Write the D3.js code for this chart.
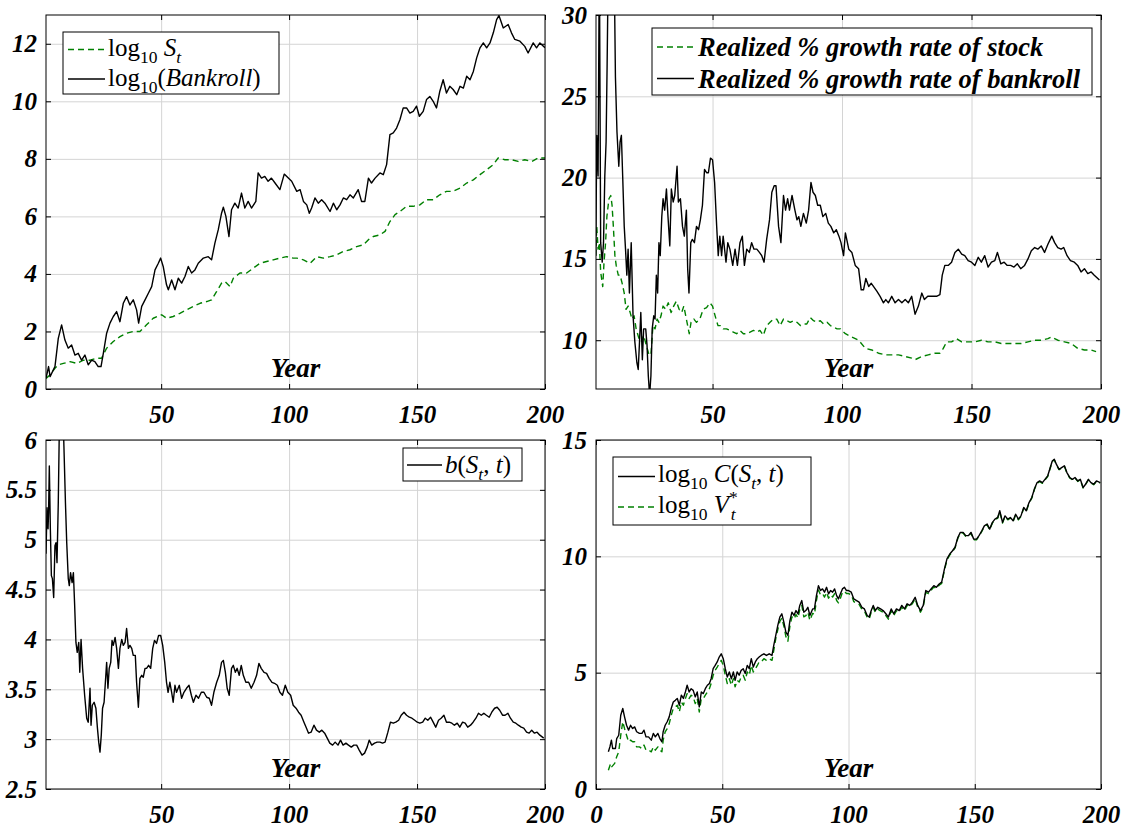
<!DOCTYPE html>
<html>
<head>
<meta charset="utf-8">
<script src="https://cdn.jsdelivr.net/npm/d3@7"></script>
<style>
  body { margin: 0; background: #fff; }
  svg { display: block; }
</style>
</head>
<body>
<svg id="chart" width="1131" height="829"></svg>
<script>
// Values: [year, value]

// Top left: log10 of stock price and of bankroll
const logStock = [[5,0.37],[6.6,0.49],[8.5,0.72],[9.8,0.84],[11.8,0.89],[14.4,0.95],[17,0.89],[19.6,1.0],[22.2,1.0],[24.8,1.07],[26.7,1.07],[28.7,1.42],[31.3,1.65],[33.9,1.82],[36.5,1.94],[39.1,2.0],[41.7,2.0],[44.3,2.23],[46.9,2.46],[50.2,2.58],[52.1,2.46],[54.7,2.52],[57.3,2.63],[59.9,2.75],[62.6,2.87],[65.2,2.98],[67.8,3.04],[69.7,3.1],[71.7,3.39],[73.6,3.68],[74.9,3.74],[76.9,3.56],[78.2,3.85],[80.8,4.03],[83.4,4.03],[86,4.2],[88.6,4.37],[91.2,4.43],[93.8,4.49],[96.4,4.55],[99,4.6],[101.6,4.55],[103,4.55],[105.6,4.49],[108.2,4.37],[110.8,4.6],[113.4,4.55],[116,4.6],[118.6,4.66],[121.2,4.78],[123.8,4.84],[126.4,4.95],[129,5.01],[131,5.19],[132.9,5.3],[135.5,5.36],[137.5,5.48],[139.4,5.82],[141.4,6.06],[143.3,6.17],[145.9,6.35],[148.5,6.35],[151.1,6.4],[153.7,6.58],[156.3,6.58],[158.9,6.75],[161.5,6.87],[164.1,6.87],[166.8,6.98],[169.4,7.16],[172,7.27],[174.6,7.45],[177.2,7.62],[179.8,7.8],[181.7,8.03],[184.3,7.97],[186.9,7.97],[189.5,7.91],[192.1,7.97],[194.8,7.91],[197.4,8.03],[200,8.03]];

const logBankroll = [[5,0.37],[6,0.78],[6.6,0.43],[8.5,0.78],[9.8,1.76],[11.1,2.23],[12.4,1.7],[13.7,1.42],[15,1.53],[16.3,1.18],[17.6,1.24],[18.9,1.0],[20.2,1.18],[21.5,0.84],[22.8,1.0],[24.1,0.95],[25.4,0.78],[26.5,0.78],[27.4,1.24],[28.7,1.94],[30,2.29],[31.3,2.52],[32.6,2.69],[33.9,2.34],[35.2,2.98],[36.5,3.21],[37.8,2.92],[39.1,3.1],[40.4,2.75],[41.2,2.29],[42.4,2.87],[43.7,3.1],[45,3.33],[46.3,3.56],[47.6,4.14],[48.9,4.37],[49.8,4.55],[50.8,4.26],[52.1,3.62],[52.8,3.45],[54.1,3.79],[55.4,3.45],[56.7,3.85],[58,3.68],[59.3,3.91],[60.6,4.26],[61.9,4.03],[63.2,4.14],[64.5,4.37],[66.5,4.55],[68.4,4.6],[69.7,4.49],[71,5.07],[72.3,5.53],[73.6,6.11],[74.3,6.32],[75.3,6.0],[76.5,5.3],[77.5,6.23],[78.8,6.46],[80.1,6.29],[81.4,6.81],[82.7,6.29],[84,6.52],[85.3,6.29],[87,6.52],[87.9,7.51],[89.2,7.33],[90.5,7.39],[91.8,7.22],[93.1,7.33],[94.5,7.16],[96.4,6.93],[98.1,7.47],[99.7,7.33],[101,7.22],[103,6.87],[104.3,6.93],[105.6,6.52],[106.9,6.4],[107.9,6.11],[108.8,6.29],[110.1,6.64],[111.4,6.46],[112.7,6.58],[114,6.46],[116,6.17],[117.3,6.46],[118.6,6.23],[119.9,6.4],[121.2,6.64],[122.5,6.58],[123.8,6.75],[125.1,6.64],[127,6.93],[128.3,6.52],[129.6,6.52],[131,7.33],[132.2,7.16],[133.6,7.33],[135.5,7.51],[136.8,7.45],[138.1,7.8],[139.4,8.84],[140.7,8.9],[142,9.07],[143.3,9.36],[144.6,9.77],[145.9,9.77],[147.2,9.59],[148.5,9.65],[149.8,9.83],[150.9,9.48],[152.4,9.65],[153.7,10.06],[155,10.17],[156.3,10.0],[157.6,9.77],[158.9,10.35],[160.2,10.75],[161.5,10.29],[162.8,10.52],[164.1,10.41],[165.5,10.23],[166.8,10.52],[168.1,10.46],[169.4,10.87],[170.7,10.75],[172,11.04],[173.3,11.51],[174.6,11.86],[175.9,12.03],[177.2,11.86],[178.5,12.03],[179.8,12.38],[181.1,12.84],[182,12.98],[183.7,12.55],[185.6,12.67],[186.9,12.38],[188.2,12.15],[190.2,12.09],[192.1,11.91],[193.4,11.68],[195.4,12.03],[196.7,11.86],[198,12.03],[200,11.86]];

// Top right: realized % growth rates
const growthStock = [[4.9,15.2],[5.3,17],[5.8,15.6],[6.3,16],[6.8,14.2],[7.6,13.3],[8.1,14.8],[8.7,16],[9.2,17.6],[10,18.7],[10.7,18.9],[11.2,18.3],[11.7,17],[12.3,15.2],[12.8,14.6],[13.6,14],[14.3,14],[15.1,13.5],[15.9,12.9],[16.6,11.9],[17.4,12.1],[18.2,11.7],[18.9,11.3],[19.7,11.5],[20.5,10.7],[21.6,10.1],[22.5,9.9],[23.4,10.3],[24.4,9.7],[25.5,9.1],[26.2,9.1],[27,10.9],[27.8,10.7],[28.6,11.3],[29.3,11.1],[30.1,11.5],[30.9,12.1],[31.9,11.9],[32.9,12.3],[34,11.7],[35,12.1],[36,12.4],[37.1,11.9],[38.1,11.7],[38.9,12.1],[39.9,11.3],[41,10.4],[41.7,11.1],[42.8,11.3],[43.8,11.1],[45.1,11.3],[46.4,11.9],[47.7,12],[49,12.3],[50,12.1],[51,11.5],[52.1,10.9],[53.1,10.9],[54.1,10.7],[55.4,10.7],[56.7,10.6],[58,10.5],[59.3,10.4],[60.6,10.6],[61.9,10.4],[63.2,10.4],[64.5,10.5],[65.8,10.6],[67.1,10.5],[68.3,10.6],[69.6,10.3],[70.9,10.9],[72.2,11.1],[73.5,11.3],[74.8,11.3],[76.1,10.9],[77.4,11.3],[78.7,11.2],[80,11.1],[81.3,11.2],[82.6,11.1],[83.9,10.9],[85.1,11],[86.4,11],[87.7,11.4],[89,11.2],[90.3,11.1],[91.6,11.2],[92.9,11],[94.2,11.1],[95.5,10.9],[96.8,10.8],[98.1,10.7],[99.4,10.7],[100.6,10.5],[101.3,10.4],[103.8,10.2],[106.4,10],[109,9.5],[111.5,9.4],[114.1,9.2],[116.7,9.1],[119.2,9.1],[121.8,9.1],[124.4,9],[126.9,8.9],[128.2,8.8],[130.8,9],[133.3,9.1],[135.9,9.2],[137.8,9.2],[139.1,9.5],[140.4,9.9],[142.3,9.9],[144.2,10.1],[146.2,9.9],[148.7,9.9],[151.3,9.9],[153.8,10],[156.4,9.9],[159,9.9],[161.5,9.8],[164.1,9.8],[166.7,9.8],[169.2,9.8],[171.8,9.9],[174.4,10],[176.9,10],[179.5,10.1],[180.8,10.2],[183.3,10],[185.9,9.9],[188.5,9.8],[191,9.5],[193.6,9.4],[196.2,9.4],[198.1,9.3]];

const growthBankroll = [[4.9,15.2],[5.3,22.6],[5.8,20.1],[6.3,34],[6.8,16],[7.4,14.8],[7.9,16],[8.4,20.1],[8.9,22.2],[9.3,27],[9.8,34],[10.8,40],[11.8,36],[12.5,26.2],[13.1,22.8],[13.8,20.7],[14.3,22.2],[14.8,22.6],[15.3,20.1],[15.9,17],[16.4,15.6],[16.9,14],[17.4,15.6],[17.9,12.9],[18.6,16],[19.3,11.5],[20,9.9],[20.8,8.6],[21.3,8.2],[21.8,9.9],[22.3,11.7],[22.9,8.8],[23.4,10.7],[24.2,10.7],[24.7,9.7],[25.2,7.8],[25.7,6.6],[26.2,7.8],[26.7,10.7],[27.3,11.5],[27.8,11.3],[28.3,14],[28.8,12.9],[29.3,16],[29.8,15.2],[30.4,17.6],[30.9,18.7],[31.5,18],[32.2,19.3],[32.8,17.6],[33.5,15.8],[34.1,19.3],[34.8,18.5],[35.4,18.9],[36.3,20.7],[36.8,18.5],[37.6,18.7],[38.4,17],[39.1,16.4],[39.9,18],[40.4,14.4],[40.9,12.9],[41.6,16],[42.2,16.2],[43,16],[43.8,17],[44.6,16.8],[45.3,17.4],[46.1,18.3],[46.9,20.5],[47.7,20.3],[48.4,20.3],[49.2,21.2],[50,21.1],[50.8,19.7],[51.6,17],[52.2,15.2],[52.8,16.4],[53.5,15.2],[54.1,16.4],[55.2,14.8],[55.9,16],[56.7,15.6],[57.8,14.6],[58.7,15.6],[59.6,14.6],[60.6,16],[61.5,16.4],[62.3,14.6],[63.2,15.6],[64.2,15.4],[65.1,16],[66,15.6],[67.1,15.6],[68.1,15.4],[69,15.2],[69.9,14.8],[70.9,16.2],[72,17.4],[72.9,19.1],[73.8,19.5],[74.5,19.5],[75.5,17],[76.4,16],[77.4,18.9],[78.2,18],[79,18.7],[79.7,18],[80.7,18.9],[81.8,18],[82.6,17.4],[83.3,17.6],[84.1,17],[85.1,17.8],[86.2,17.2],[87.1,18],[88,19.7],[88.8,19.1],[89.7,18.9],[90.6,18.3],[91.6,18.3],[92.6,17.6],[93.7,17.8],[94.7,17.2],[95.7,17],[96.8,16.6],[97.8,16.8],[98.8,16.4],[99.6,16],[100.6,15.2],[101.3,16.6],[102.6,15.6],[103.8,15.4],[105.1,14.6],[106.4,14.4],[107.4,13.1],[108.3,13.1],[109.2,13.8],[110.3,13.3],[111.3,13.5],[112.2,13.3],[113.5,13],[114.7,12.7],[116,12.3],[116.9,12.5],[117.9,12.3],[119.2,12.7],[120.5,12.3],[121.8,12.5],[123.1,12.3],[124.4,12.5],[125.6,12.3],[126.9,12.7],[128.2,11.6],[129.5,12.1],[130.8,12.9],[131.8,12.5],[133.1,12.7],[134.6,12.7],[136.5,12.7],[137.8,12.8],[138.7,14],[139.7,14.6],[141,14.6],[142.3,14.8],[143.6,15.4],[144.9,15.6],[146.2,15.3],[147.4,15.2],[148.7,14.9],[150,14.8],[151.3,14.6],[152.6,15.1],[153.8,14.8],[155.1,15.2],[156.4,14.5],[157.7,14.8],[159,14.9],[160,15.4],[161.3,14.7],[162.6,14.8],[163.8,14.6],[165.1,14.6],[166.4,14.5],[167.7,14.7],[169,14.4],[170.5,14.6],[171.8,15],[173.1,15.5],[174.4,15.7],[175.6,15.6],[176.9,15.8],[178.2,15.4],[179.5,15.9],[181,16.4],[182.1,16],[183.3,15.7],[184.6,15.6],[185.6,15.7],[186.9,15.2],[188.2,14.9],[189.7,14.8],[191,14.6],[192.3,14.2],[193.6,14.4],[194.9,14.1],[196.2,14.2],[197.4,14],[199.4,13.7]];

// Bottom left: b(S_t, t)
const betSize = [[5,4.86],[5.4,5.32],[5.8,5.11],[6,5.27],[6.3,5.74],[6.7,5.11],[7.1,4.64],[7.5,4.61],[8,4.42],[8.5,4.94],[8.9,4.97],[9.3,4.77],[9.8,5.37],[10.2,6.1],[10.8,6.6],[11.4,6.5],[12,5.94],[12.6,5.37],[13.1,4.97],[13.7,4.61],[14.1,4.54],[14.6,4.67],[15.2,4.57],[15.7,4.67],[16.2,4.34],[16.7,3.97],[17.2,3.87],[17.8,3.97],[18.2,3.67],[18.7,4.0],[19.3,3.71],[20.1,3.44],[20.9,3.21],[21.5,3.17],[22.2,3.51],[22.6,3.14],[23.1,3.34],[23.8,3.37],[24.5,3.31],[25.1,3.11],[25.6,2.97],[26.1,2.87],[26.6,3.04],[27.1,3.31],[27.7,3.37],[28.2,3.57],[28.7,3.77],[29.2,3.51],[29.7,3.71],[30.3,3.77],[30.8,3.99],[31.3,3.94],[32,4.02],[32.6,3.91],[33.3,3.71],[33.9,3.91],[34.6,4.0],[35.2,3.94],[35.9,3.97],[36.5,4.11],[37.2,3.91],[37.8,3.94],[38.5,3.91],[39.1,3.84],[39.9,3.84],[40.4,3.57],[41.1,3.32],[41.7,3.61],[42.4,3.64],[43,3.62],[43.7,3.71],[44.3,3.71],[45.1,3.74],[45.9,3.71],[46.7,3.91],[47.4,3.99],[48.2,3.96],[49,4.04],[49.8,4.04],[50.6,3.94],[51.4,3.77],[52.1,3.57],[52.7,3.47],[53.4,3.57],[54.1,3.47],[54.7,3.37],[55.4,3.54],[56,3.47],[57.1,3.54],[58,3.41],[58.9,3.47],[59.9,3.51],[60.9,3.54],[61.8,3.44],[62.6,3.37],[63.6,3.44],[64.6,3.41],[65.7,3.47],[66.7,3.47],[67.8,3.42],[68.8,3.41],[69.7,3.34],[70.6,3.47],[71.7,3.57],[72.7,3.64],[73.6,3.77],[74.3,3.79],[75.1,3.67],[75.8,3.51],[76.6,3.44],[77.5,3.71],[78.2,3.74],[79,3.67],[79.7,3.71],[80.5,3.64],[81.3,3.74],[82.1,3.64],[83.1,3.57],[84.2,3.57],[85.2,3.51],[86.3,3.57],[87.3,3.64],[88.2,3.76],[89.1,3.71],[90.2,3.67],[91.2,3.66],[92.2,3.61],[93.3,3.57],[94.3,3.56],[95.4,3.54],[96.4,3.47],[97.4,3.44],[98.5,3.54],[99.5,3.47],[100.6,3.44],[101.6,3.34],[102.7,3.31],[103.7,3.27],[104.7,3.24],[105.8,3.17],[106.8,3.11],[107.6,3.06],[108.6,3.07],[109.7,3.14],[110.7,3.09],[111.8,3.07],[112.8,3.09],[113.9,3.06],[114.9,3.01],[115.9,2.96],[117,2.94],[118,2.97],[119.1,2.94],[120.1,2.99],[121.1,2.94],[122.2,2.96],[123.2,2.94],[124.3,2.92],[125.3,2.94],[126.4,2.94],[127.4,2.89],[128.5,2.84],[129.5,2.86],[130.5,2.92],[131.3,2.99],[132.3,2.94],[133.4,2.96],[134.4,2.97],[135.5,2.97],[136.5,2.96],[137.5,2.97],[138.6,3.07],[139.6,3.17],[140.7,3.16],[141.7,3.17],[142.8,3.19],[143.8,3.24],[144.9,3.27],[145.9,3.24],[147,3.22],[148,3.21],[149.1,3.19],[150.1,3.17],[151.1,3.16],[152.2,3.17],[153.2,3.21],[154.2,3.19],[155.3,3.22],[156.3,3.17],[157.3,3.12],[158.4,3.19],[159.4,3.21],[160.5,3.24],[161.5,3.17],[162.6,3.17],[163.6,3.16],[164.6,3.14],[165.7,3.16],[166.7,3.12],[167.8,3.17],[168.8,3.16],[169.8,3.12],[170.9,3.14],[171.9,3.17],[173,3.21],[174,3.26],[175.1,3.24],[176.1,3.26],[177.1,3.24],[178.2,3.22],[179.2,3.27],[180.3,3.31],[181.3,3.32],[182.3,3.29],[183.4,3.24],[184.4,3.24],[185.5,3.26],[186.5,3.21],[187.6,3.17],[188.6,3.16],[189.6,3.14],[190.7,3.12],[191.7,3.11],[192.8,3.07],[193.8,3.06],[194.8,3.09],[195.9,3.06],[196.9,3.07],[198,3.04],[199.5,3.01]];

// Bottom right: log10 C(S_t, t) and log10 V*_t
const logC = [[4.9,1.6],[5.5,1.81],[6.1,2.1],[6.6,1.74],[7.7,1.74],[8.2,2.17],[9,2.31],[9.8,3.17],[10.6,3.46],[11.3,3.1],[12.1,2.74],[12.9,2.53],[13.7,2.74],[14.5,2.6],[15.3,2.67],[16.1,2.46],[17.2,2.39],[18.2,2.39],[19,2.53],[19.8,2.24],[20.8,2.24],[21.9,2.1],[22.7,2.39],[23.5,2.24],[24.5,2.39],[25.3,2.17],[26.1,2.03],[26.6,2.46],[27.4,2.74],[28.2,2.89],[29,3.1],[29.8,3.46],[30.6,3.74],[31.4,3.81],[32.2,3.89],[33,3.6],[33.8,4.03],[34.6,3.89],[35.4,4.17],[36.1,4.46],[36.9,4.17],[37.7,4.31],[38.5,4.24],[39.3,3.96],[40.1,4.17],[40.9,3.53],[41.7,4.17],[42.5,4.1],[43.3,4.31],[44.1,4.46],[44.9,4.53],[45.6,4.74],[46.4,5.17],[47.2,5.31],[48,5.46],[48.8,5.67],[49.6,5.81],[50.4,5.6],[51.2,5.17],[52,4.81],[52.8,5.03],[53.6,4.74],[54.4,5.03],[55.1,4.67],[55.9,5.03],[56.7,4.89],[57.5,5.1],[58.3,5.17],[59.1,4.96],[59.9,5.31],[60.7,5.17],[61.5,5.6],[62.3,5.24],[63.1,5.46],[63.9,5.6],[64.6,5.67],[65.4,5.74],[66.5,5.81],[67.5,5.74],[68.6,5.81],[69.7,5.74],[70.4,6.17],[71.2,6.6],[72,7.03],[72.8,7.39],[73.6,7.53],[74.4,7.17],[75.2,6.74],[76,6.6],[76.8,7.24],[77.6,7.6],[78.4,7.46],[79.2,7.67],[80,7.53],[80.7,7.89],[81.5,8.1],[82.3,7.6],[83.1,7.67],[83.9,7.81],[84.7,7.46],[85.8,7.74],[86.5,7.74],[87.3,8.31],[88.1,8.74],[88.9,8.53],[89.7,8.6],[90.5,8.46],[91.3,8.67],[92.1,8.39],[92.9,8.53],[93.7,8.46],[94.5,8.6],[95.3,8.31],[96,8.17],[96.8,8.39],[97.6,8.6],[98.4,8.67],[99.2,8.53],[100,8.53],[101.1,8.46],[102.1,8.17],[103.2,8.1],[104.2,8.03],[105.3,7.81],[106.3,7.74],[107.4,7.46],[108.2,7.39],[109,7.67],[109.8,7.89],[110.6,7.67],[111.6,7.81],[112.7,7.74],[113.7,7.67],[114.8,7.53],[115.8,7.39],[116.9,7.74],[117.9,7.53],[119,7.74],[120.1,7.67],[121.1,7.89],[122.2,7.74],[123.2,7.96],[124.3,7.89],[125.3,8.03],[126.4,8.24],[127.4,7.89],[128.5,7.67],[129.6,7.89],[130.6,8.53],[131.7,8.46],[132.7,8.6],[133.8,8.74],[134.8,8.67],[135.9,8.81],[136.9,8.89],[138,9.46],[139,9.89],[140.1,10.1],[141.2,10.24],[142.2,10.39],[143.3,10.81],[144.3,11.03],[145.4,11.03],[146.4,10.89],[147.5,10.89],[148.5,11.03],[149.6,10.74],[150.7,10.74],[151.7,10.89],[152.8,11.1],[153.8,11.31],[154.9,11.39],[155.9,11.17],[157,11.46],[158,11.6],[159.1,11.67],[159.9,11.96],[161,11.46],[162,11.74],[163.1,11.6],[164.1,11.67],[165.2,11.53],[166.2,11.81],[167.3,11.6],[168.3,11.74],[169.4,12.1],[170.4,11.96],[171.5,12.31],[172.6,12.53],[173.6,12.89],[174.7,13.17],[175.7,13.24],[176.8,13.17],[177.8,13.31],[178.9,13.46],[179.7,13.74],[180.7,14.1],[181.5,14.17],[182.3,13.96],[183.4,13.74],[184.4,13.81],[185.5,13.89],[186.5,13.6],[187.6,13.39],[188.7,13.31],[189.7,13.39],[190.8,13.24],[191.8,13.31],[192.9,12.96],[193.9,13.1],[195,13.31],[196,13.17],[197.1,13.1],[198.2,13.24],[199.7,13.17]];

const logV = [[4.9,0.81],[5.8,1.1],[6.3,0.96],[7.4,1.1],[8.2,1.39],[9,1.6],[9.8,2.31],[10.6,2.89],[11.3,2.6],[12.1,2.31],[12.9,2.03],[13.7,2.1],[14.5,2.03],[15.3,2.03],[16.1,1.81],[17.2,1.81],[18.2,1.74],[19,1.89],[19.8,1.67],[20.8,1.67],[21.9,1.6],[22.7,1.81],[23.5,1.67],[24.5,1.81],[25.3,1.67],[26.1,1.6],[26.6,2.1],[27.4,2.46],[28.2,2.6],[29,2.81],[29.8,3.17],[30.6,3.46],[31.4,3.53],[32.2,3.6],[33,3.31],[33.8,3.74],[34.6,3.6],[35.4,3.89],[36.1,4.1],[36.9,3.89],[37.7,4.03],[38.5,3.96],[39.3,3.67],[40.1,3.89],[40.9,3.31],[41.7,3.89],[42.5,3.89],[43.3,4.03],[44.1,4.17],[44.9,4.31],[45.6,4.53],[46.4,4.89],[47.2,5.1],[48,5.24],[48.8,5.39],[49.6,5.53],[50.4,5.31],[51.2,4.89],[52,4.53],[52.8,4.74],[53.6,4.46],[54.4,4.74],[55.1,4.39],[55.9,4.67],[56.7,4.6],[57.5,4.81],[58.3,4.89],[59.1,4.67],[59.9,5.03],[60.7,4.89],[61.5,5.31],[62.3,5.03],[63.1,5.17],[63.9,5.31],[64.6,5.46],[65.4,5.46],[66.5,5.6],[67.5,5.53],[68.6,5.6],[69.7,5.53],[70.4,5.96],[71.2,6.46],[72,6.85],[72.8,7.2],[73.6,7.35],[74.4,7.0],[75.2,6.55],[76,6.35],[76.8,7.0],[77.6,7.4],[78.4,7.3],[79.2,7.5],[80,7.35],[80.7,7.7],[81.5,7.9],[82.3,7.4],[83.1,7.45],[83.9,7.6],[84.7,7.25],[85.8,7.55],[86.5,7.5],[87.3,8.1],[88.1,8.55],[88.9,8.35],[89.7,8.4],[90.5,8.25],[91.3,8.45],[92.1,8.2],[92.9,8.35],[93.7,8.25],[94.5,8.4],[95.3,8.1],[96,8.0],[96.8,8.2],[97.6,8.45],[98.4,8.5],[99.2,8.4],[100,8.4],[101.1,8.35],[102.1,8.05],[103.2,8.0],[104.2,7.93],[105.3,7.72],[106.3,7.65],[107.4,7.38],[108.2,7.3],[109,7.6],[109.8,7.8],[110.6,7.6],[111.6,7.73],[112.7,7.66],[113.7,7.6],[114.8,7.45],[115.8,7.3],[116.9,7.66],[117.9,7.45],[119,7.66],[120.1,7.6],[121.1,7.82],[122.2,7.66],[123.2,7.9],[124.3,7.83],[125.3,7.97],[126.4,8.18],[127.4,7.83],[128.5,7.6],[129.6,7.83],[130.6,8.45],[131.7,8.4],[132.7,8.54],[133.8,8.68],[134.8,8.62],[135.9,8.76],[136.9,8.84],[138,9.4],[139,9.84],[140.1,10.06],[141.2,10.2],[142.2,10.36],[143.3,10.78],[144.3,11.0],[145.4,11.0],[146.4,10.86],[147.5,10.86],[148.5,11.0],[149.6,10.71],[150.7,10.71],[151.7,10.86],[152.8,11.07],[153.8,11.28],[154.9,11.36],[155.9,11.14],[157,11.43],[158,11.57],[159.1,11.64],[159.9,11.93],[161,11.43],[162,11.71],[163.1,11.57],[164.1,11.64],[165.2,11.5],[166.2,11.78],[167.3,11.57],[168.3,11.71],[169.4,12.07],[170.4,11.93],[171.5,12.28],[172.6,12.5],[173.6,12.86],[174.7,13.14],[175.7,13.21],[176.8,13.14],[177.8,13.28],[178.9,13.43],[179.7,13.72],[180.7,14.08],[181.5,14.15],[182.3,13.94],[183.4,13.72],[184.4,13.79],[185.5,13.87],[186.5,13.58],[187.6,13.37],[188.7,13.29],[189.7,13.37],[190.8,13.22],[191.8,13.29],[192.9,12.94],[193.9,13.08],[195,13.29],[196,13.15],[197.1,13.08],[198.2,13.22],[199.7,13.15]];

// Tick values per panel
const yearTicks = [50, 100, 150, 200];
const yearTicksFromZero = [0, 50, 100, 150, 200];
const logTicks = [0, 2, 4, 6, 8, 10, 12];
const growthTicks = [10, 15, 20, 25, 30];
const betTicks = [2.5, 3, 3.5, 4, 4.5, 5, 5.5, 6];
const optionTicks = [0, 5, 10, 15];

const GREEN = '#008000';
const SERIF = "'Liberation Serif', 'Times New Roman', serif";

const svg = d3.select('#chart');
svg.append('rect').attr('width', 1131).attr('height', 829).attr('fill', '#fff');

// bold italic Times-like text, as in the reference
function boldItalic(sel, size) {
  return sel.style('font-family', SERIF)
    .style('font-weight', 'bold')
    .style('font-style', 'italic')
    .style('font-size', size + 'px');
}

// legend label built from plain / italic / subscript / superscript pieces
function mathText(g, x, y, parts, size) {
  const text = g.append('text')
    .attr('x', x).attr('y', y)
    .style('font-family', SERIF)
    .style('font-size', size + 'px');
  let shift = 0;
  parts.forEach(p => {
    let target = 0;
    if (p.sub) target = size * 0.26;
    if (p.sup) target = -size * 0.4;
    const ts = text.append('tspan')
      .attr('dy', target - shift)
      .style('font-style', p.it ? 'italic' : 'normal')
      .style('font-size', ((p.sub || p.sup) ? size * 0.7 : size) + 'px')
      .text(p.t);
    if (p.back) ts.attr('dx', -p.back);
    shift = target;
  });
  return text;
}

function drawPanel(cfg, idx) {
  const { left, right, top, bottom } = cfg;
  const width = right - left;
  const height = bottom - top;

  const x = d3.scaleLinear().domain(cfg.xDomain).range([0, width]);
  const y = d3.scaleLinear().domain(cfg.yDomain).range([height, 0]);

  const g = svg.append('g').attr('transform', `translate(${left},${top})`);

  g.append('clipPath').attr('id', `clip${idx}`)
    .append('rect').attr('width', width).attr('height', height);

  // grid lines
  g.append('g')
    .attr('transform', `translate(0,${height})`)
    .call(d3.axisBottom(x).tickValues(cfg.xTicks).tickSize(-height).tickFormat(''))
    .call(a => a.select('.domain').remove())
    .selectAll('line').attr('stroke', '#d4d4d4').attr('stroke-width', 1);
  g.append('g')
    .call(d3.axisLeft(y).tickValues(cfg.yTicks).tickSize(-width).tickFormat(''))
    .call(a => a.select('.domain').remove())
    .selectAll('line').attr('stroke', '#d4d4d4').attr('stroke-width', 1);

  // series
  const line = d3.line().x(d => x(d[0])).y(d => y(d[1]));
  const lines = g.append('g').attr('clip-path', `url(#clip${idx})`);
  cfg.series.forEach(s => {
    lines.append('path')
      .datum(s.data)
      .attr('fill', 'none')
      .attr('stroke', s.color)
      .attr('stroke-width', 1.4)
      .attr('stroke-dasharray', s.dash ? '6,4' : null)
      .attr('stroke-linejoin', 'round')
      .attr('d', line);
  });

  // tick axes, ticks pointing inwards
  const fmt = d3.format('~g');
  const styleLabels = sel => boldItalic(sel.selectAll('text'), 25).attr('fill', '#000');

  g.append('g')
    .attr('transform', `translate(0,${height})`)
    .call(d3.axisBottom(x).tickValues(cfg.xTicks).tickSize(-5).tickPadding(16).tickFormat(fmt))
    .call(a => a.select('.domain').remove())
    .call(styleLabels);
  g.append('g')
    .call(d3.axisLeft(y).tickValues(cfg.yTicks).tickSize(-5).tickPadding(9).tickFormat(fmt))
    .call(a => a.select('.domain').remove())
    .call(styleLabels);
  g.append('g')
    .call(d3.axisTop(x).tickValues(cfg.xTicks).tickSize(-5).tickFormat(''))
    .call(a => a.select('.domain').remove());
  g.append('g')
    .attr('transform', `translate(${width},0)`)
    .call(d3.axisRight(y).tickValues(cfg.yTicks).tickSize(-5).tickFormat(''))
    .call(a => a.select('.domain').remove());

  g.append('rect')
    .attr('width', width).attr('height', height)
    .attr('fill', 'none').attr('stroke', '#000').attr('stroke-width', 1);

  // "Year" label sits inside the axes
  boldItalic(g.append('text'), 27)
    .attr('x', width / 2).attr('y', height - 12)
    .attr('text-anchor', 'middle')
    .text('Year');

  // legend
  const lg = cfg.legend;
  const leg = svg.append('g');
  leg.append('rect')
    .attr('x', lg.x).attr('y', lg.y).attr('width', lg.w).attr('height', lg.h)
    .attr('fill', '#fff').attr('stroke', '#000').attr('stroke-width', 1);
  lg.rows.forEach(r => {
    leg.append('line')
      .attr('x1', lg.lineX0).attr('x2', lg.lineX1)
      .attr('y1', r.lineY).attr('y2', r.lineY)
      .attr('stroke', r.color).attr('stroke-width', 1.4)
      .attr('stroke-dasharray', r.dash ? '6,4' : null);
    if (r.parts) {
      mathText(leg, lg.textX, r.baseY, r.parts, 25);
    } else {
      boldItalic(leg.append('text'), 26.5)
        .attr('x', lg.textX).attr('y', r.baseY)
        .text(r.label);
    }
  });
}

const panels = [
  {
    left: 46, right: 545, top: 15, bottom: 389,
    xDomain: [5, 200], yDomain: [0, 13], xTicks: yearTicks, yTicks: logTicks,
    series: [
      { data: logStock, color: GREEN, dash: true },
      { data: logBankroll, color: '#000' }
    ],
    legend: {
      x: 63, y: 32, w: 216, h: 62, lineX0: 68, lineX1: 105, textX: 108,
      rows: [
        { color: GREEN, dash: true, lineY: 49.5, baseY: 56,
          parts: [{ t: 'log' }, { t: '10', sub: true }, { t: ' ' }, { t: 'S', it: true }, { t: 't', it: true, sub: true }] },
        { color: '#000', lineY: 79, baseY: 86,
          parts: [{ t: 'log' }, { t: '10', sub: true }, { t: '(' }, { t: 'Bankroll', it: true }, { t: ')' }] }
      ]
    }
  },
  {
    left: 596, right: 1101, top: 15, bottom: 389,
    xDomain: [5, 200], yDomain: [7, 30], xTicks: yearTicks, yTicks: growthTicks,
    series: [
      { data: growthStock, color: GREEN, dash: true },
      { data: growthBankroll, color: '#000' }
    ],
    legend: {
      x: 652, y: 28, w: 440, h: 67, lineX0: 657, lineX1: 694, textX: 698,
      rows: [
        { color: GREEN, dash: true, lineY: 47, baseY: 56, label: 'Realized % growth rate of stock' },
        { color: '#000', lineY: 78.5, baseY: 87.5, label: 'Realized % growth rate of bankroll' }
      ]
    }
  },
  {
    left: 46, right: 545, top: 440, bottom: 789,
    xDomain: [5, 200], yDomain: [2.5, 6], xTicks: yearTicks, yTicks: betTicks,
    series: [
      { data: betSize, color: '#000' }
    ],
    legend: {
      x: 403, y: 448, w: 119, h: 33, lineX0: 407, lineX1: 442, textX: 445,
      rows: [
        { color: '#000', lineY: 465, baseY: 473,
          parts: [{ t: 'b', it: true }, { t: '(' }, { t: 'S', it: true }, { t: 't', it: true, sub: true }, { t: ', ' }, { t: 't', it: true }, { t: ')' }] }
      ]
    }
  },
  {
    left: 596, right: 1101, top: 440, bottom: 789,
    xDomain: [0, 200], yDomain: [0, 15], xTicks: yearTicksFromZero, yTicks: optionTicks,
    series: [
      { data: logV, color: GREEN, dash: true },
      { data: logC, color: '#000' }
    ],
    legend: {
      x: 613, y: 457, w: 198, h: 68, lineX0: 618, lineX1: 655, textX: 658,
      rows: [
        { color: '#000', lineY: 476.5, baseY: 482,
          parts: [{ t: 'log' }, { t: '10', sub: true }, { t: ' ' }, { t: 'C', it: true }, { t: '(' }, { t: 'S', it: true }, { t: 't', it: true, sub: true }, { t: ', ' }, { t: 't', it: true }, { t: ')' }] },
        { color: GREEN, dash: true, lineY: 507, baseY: 513,
          parts: [{ t: 'log' }, { t: '10', sub: true }, { t: ' ' }, { t: 'V', it: true }, { t: '*', sup: true }, { t: 't', it: true, sub: true, back: 7 }] }
      ]
    }
  }
];

panels.forEach((p, i) => drawPanel(p, i));
</script>
</body>
</html>
